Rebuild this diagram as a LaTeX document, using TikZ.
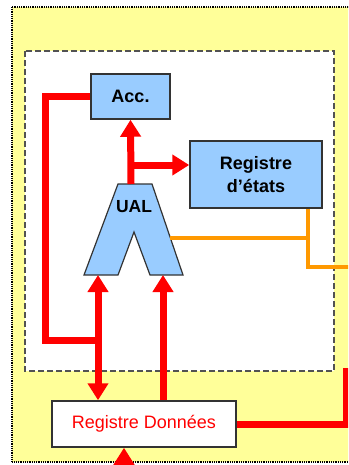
\documentclass[tikz,border=0pt]{standalone}
\usepackage{fontspec}
\setmainfont{Liberation Sans}
\usetikzlibrary{arrows.meta, calc}

\definecolor{fondjaune}{HTML}{FFFF99}
\definecolor{bleubox}{HTML}{99CCFF}
\definecolor{rougebus}{HTML}{FF0000}
\definecolor{orangebus}{HTML}{FF9900}
\definecolor{bordgris}{HTML}{333333}

\begin{document}
\begin{tikzpicture}[x=1pt, y=-1pt,
		regbox/.style={draw=bordgris, line width=1.5pt, fill=bleubox, inner sep=0pt,
			font=\fontsize{18}{23}\selectfont\bfseries, align=center},
		bus/.style={line width=7pt, color=rougebus},
		busarrow/.style={bus, -{Triangle[length=17pt, width=20pt]}},
		flag/.style={line width=4.5pt, color=orangebus}]
		\fill[white] (0,0) rectangle (348,465);
		\path[use as bounding box, clip] (0,0) rectangle (348,465);
		% processor area
		\draw[fill=fondjaune, line width=1.8pt, dash pattern=on 1pt off 0.8pt] (12,7) rectangle (380,462);
		\draw[fill=white, line width=2pt, draw=bordgris!85, dash pattern=on 6pt off 3pt] (25,51) rectangle (334,371);
		% registers
		\node[regbox, minimum width=79pt, minimum height=45pt] (acc) at (130.5,96.5) {Acc.};
		\node[regbox, minimum width=132pt, minimum height=67pt] (etats) at (256,174.5) {Registre\\d'états};
		\node[draw=bordgris, line width=1.5pt, fill=white, inner sep=0pt, minimum width=184pt, minimum height=46pt,
			font=\fontsize{18}{20}\selectfont, text=rougebus] (donnees) at (144,424) {Registre Données};
		% UAL
		\draw[fill=bleubox, draw=bordgris, line width=1.2pt]
			(118,184) -- (152,184) -- (183,275) -- (150,275) -- (134,232) -- (118,275) -- (84,275) -- cycle;
		\node[font=\fontsize{17.5}{20}\selectfont\bfseries] (ual) at (134,207) {UAL};
		\coordinate (ualtop) at (131,184);
		\coordinate (ualinA) at (98,275);
		\coordinate (ualinB) at (163,275);
		\coordinate (ualflag) at (170,238);
		\coordinate (branch) at (131,165);
		% red buses
		\draw[busarrow] (ualtop) -- (acc.south);
		\draw[busarrow] (branch) -- (branch -| etats.west);
		\draw[bus] (acc.west) -- (45,96.5) -- (45,340) -- (ualinA |- 0,340);
		\draw[bus, {Triangle[length=17pt, width=20pt]}-{Triangle[length=17pt, width=20pt]}] (ualinA) -- (ualinA |- donnees.north);
		\draw[busarrow] (ualinB |- donnees.north) -- (ualinB);
		\draw[bus] (donnees.east) -- (346,424) -- (346,368);
		\coordinate (ext) at (124,480);
		\draw[busarrow] (ext) -- (ext |- donnees.south);
		% status flags
		\draw[flag] (ualflag) -- (308,238);
		\draw[flag] (etats.south -| 308,0) -- (308,267) -- (360,267);
	\end{tikzpicture}
\end{document}
